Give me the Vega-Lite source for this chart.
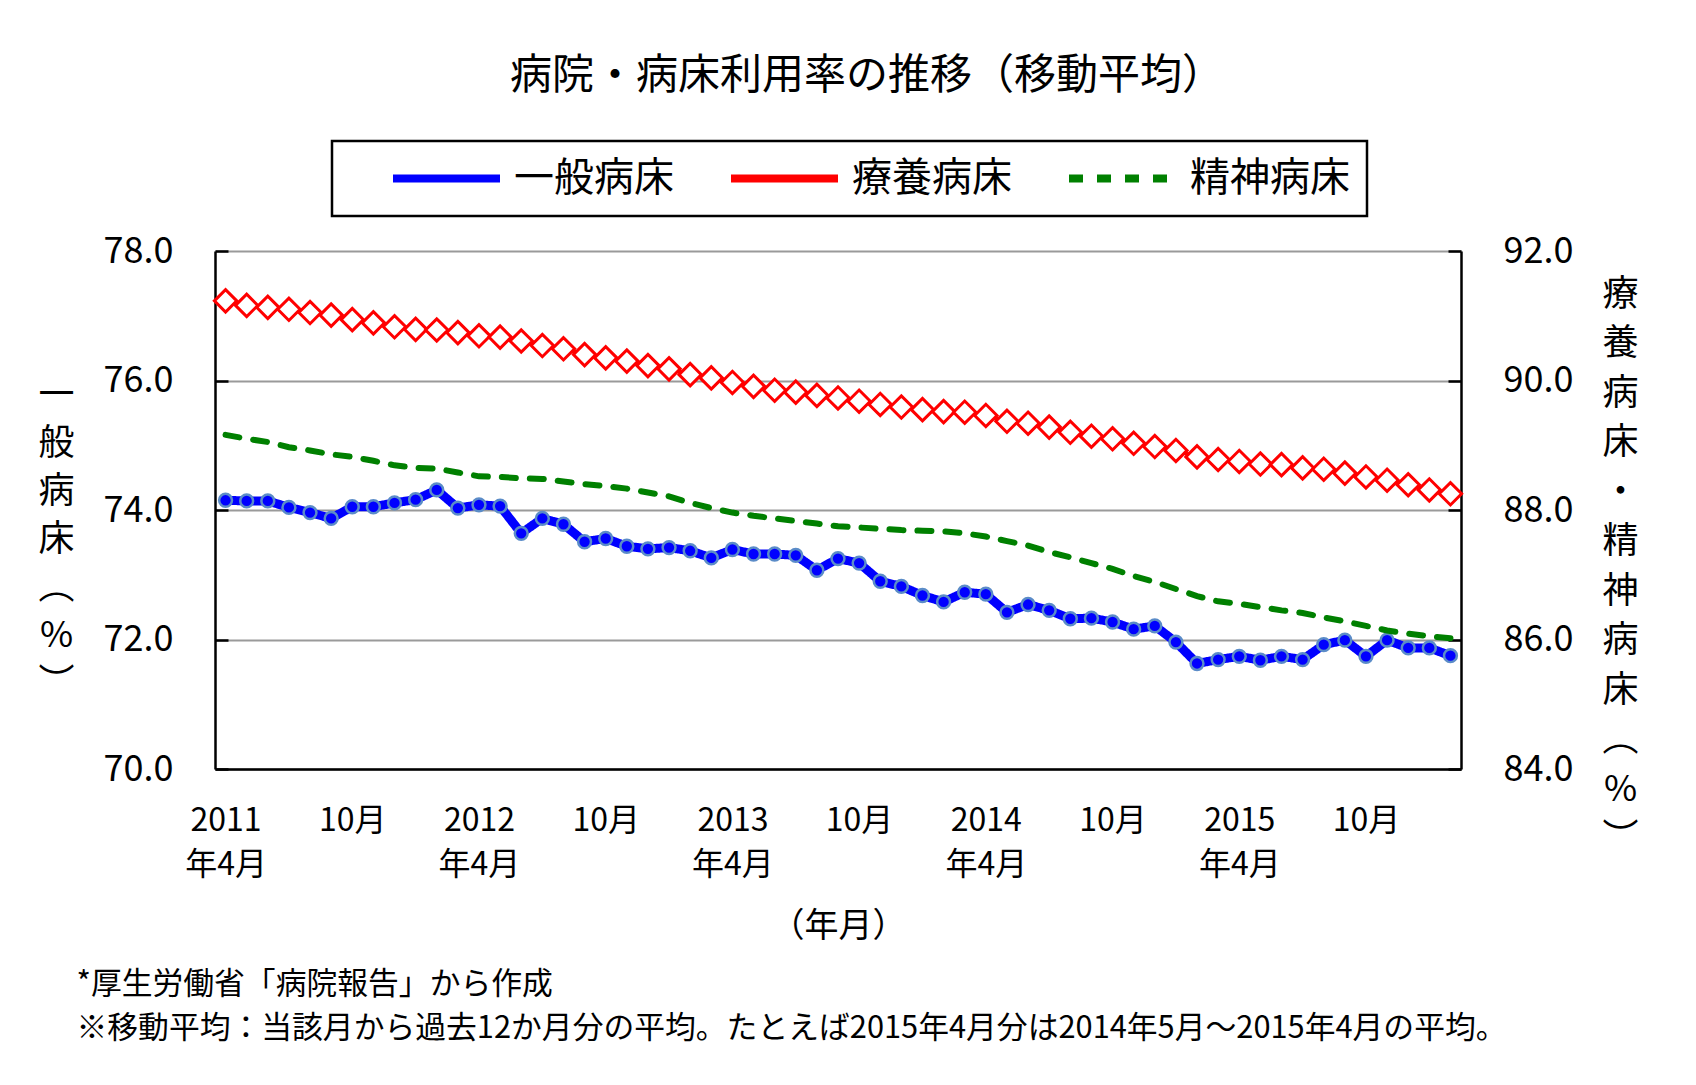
{
  "$schema": "https://vega.github.io/schema/vega-lite/v6.json",
  "width": 1246,
  "height": 518,
  "autosize": {"type": "none"},
  "padding": {"left": 215, "top": 251, "right": 235, "bottom": 316},
  "background": "white",
  "title": {
    "text": "病院・病床利用率の推移（移動平均）",
    "fontSize": 42,
    "fontWeight": "normal",
    "font": "Noto Sans CJK JP",
    "color": "black",
    "anchor": "middle",
    "frame": "group",
    "dx": 29,
    "offset": 42
  },
  "data": {
    "values": [
      {"m": "2011-04", "一般病床": 74.15, "療養病床": 91.23, "精神病床": 89.16},
      {"m": "2011-05", "一般病床": 74.14, "療養病床": 91.16, "精神病床": 89.10},
      {"m": "2011-06", "一般病床": 74.14, "療養病床": 91.13, "精神病床": 89.05},
      {"m": "2011-07", "一般病床": 74.04, "療養病床": 91.10, "精神病床": 88.97},
      {"m": "2011-08", "一般病床": 73.96, "療養病床": 91.05, "精神病床": 88.92},
      {"m": "2011-09", "一般病床": 73.87, "療養病床": 91.01, "精神病床": 88.86},
      {"m": "2011-10", "一般病床": 74.05, "療養病床": 90.94, "精神病床": 88.82},
      {"m": "2011-11", "一般病床": 74.05, "療養病床": 90.89, "精神病床": 88.76},
      {"m": "2011-12", "一般病床": 74.11, "療養病床": 90.83, "精神病床": 88.69},
      {"m": "2012-01", "一般病床": 74.16, "療養病床": 90.79, "精神病床": 88.65},
      {"m": "2012-02", "一般病床": 74.31, "療養病床": 90.78, "精神病床": 88.64},
      {"m": "2012-03", "一般病床": 74.03, "療養病床": 90.74, "精神病床": 88.58},
      {"m": "2012-04", "一般病床": 74.08, "療養病床": 90.69, "精神病床": 88.52},
      {"m": "2012-05", "一般病床": 74.06, "療養病床": 90.67, "精神病床": 88.51},
      {"m": "2012-06", "一般病床": 73.64, "療養病床": 90.61, "精神病床": 88.49},
      {"m": "2012-07", "一般病床": 73.87, "療養病床": 90.54, "精神病床": 88.48},
      {"m": "2012-08", "一般病床": 73.78, "療養病床": 90.49, "精神病床": 88.44},
      {"m": "2012-09", "一般病床": 73.51, "療養病床": 90.40, "精神病床": 88.40},
      {"m": "2012-10", "一般病床": 73.56, "療養病床": 90.35, "精神病床": 88.37},
      {"m": "2012-11", "一般病床": 73.44, "療養病床": 90.30, "精神病床": 88.33},
      {"m": "2012-12", "一般病床": 73.40, "療養病床": 90.23, "精神病床": 88.27},
      {"m": "2013-01", "一般病床": 73.42, "療養病床": 90.18, "精神病床": 88.21},
      {"m": "2013-02", "一般病床": 73.37, "療養病床": 90.09, "精神病床": 88.11},
      {"m": "2013-03", "一般病床": 73.26, "療養病床": 90.04, "精神病床": 88.03},
      {"m": "2013-04", "一般病床": 73.39, "療養病床": 89.97, "精神病床": 87.96},
      {"m": "2013-05", "一般病床": 73.32, "療養病床": 89.91, "精神病床": 87.91},
      {"m": "2013-06", "一般病床": 73.32, "療養病床": 89.85, "精神病床": 87.87},
      {"m": "2013-07", "一般病床": 73.30, "療養病床": 89.82, "精神病床": 87.83},
      {"m": "2013-08", "一般病床": 73.07, "療養病床": 89.77, "精神病床": 87.79},
      {"m": "2013-09", "一般病床": 73.25, "療養病床": 89.73, "精神病床": 87.75},
      {"m": "2013-10", "一般病床": 73.18, "療養病床": 89.68, "精神病床": 87.73},
      {"m": "2013-11", "一般病床": 72.90, "療養病床": 89.63, "精神病床": 87.71},
      {"m": "2013-12", "一般病床": 72.82, "療養病床": 89.59, "精神病床": 87.69},
      {"m": "2014-01", "一般病床": 72.68, "療養病床": 89.55, "精神病床": 87.68},
      {"m": "2014-02", "一般病床": 72.58, "療養病床": 89.52, "精神病床": 87.67},
      {"m": "2014-03", "一般病床": 72.73, "療養病床": 89.51, "精神病床": 87.64},
      {"m": "2014-04", "一般病床": 72.70, "療養病床": 89.46, "精神病床": 87.59},
      {"m": "2014-05", "一般病床": 72.42, "療養病床": 89.37, "精神病床": 87.52},
      {"m": "2014-06", "一般病床": 72.54, "療養病床": 89.34, "精神病床": 87.45},
      {"m": "2014-07", "一般病床": 72.45, "療養病床": 89.28, "精神病床": 87.35},
      {"m": "2014-08", "一般病床": 72.32, "療養病床": 89.20, "精神病床": 87.27},
      {"m": "2014-09", "一般病床": 72.33, "療養病床": 89.14, "精神病床": 87.18},
      {"m": "2014-10", "一般病床": 72.27, "療養病床": 89.10, "精神病床": 87.09},
      {"m": "2014-11", "一般病床": 72.16, "療養病床": 89.03, "精神病床": 86.98},
      {"m": "2014-12", "一般病床": 72.21, "療養病床": 88.98, "精神病床": 86.89},
      {"m": "2015-01", "一般病床": 71.96, "療養病床": 88.92, "精神病床": 86.78},
      {"m": "2015-02", "一般病床": 71.63, "療養病床": 88.82, "精神病床": 86.67},
      {"m": "2015-03", "一般病床": 71.69, "療養病床": 88.78, "精神病床": 86.59},
      {"m": "2015-04", "一般病床": 71.74, "療養病床": 88.75, "精神病床": 86.55},
      {"m": "2015-05", "一般病床": 71.68, "療養病床": 88.71, "精神病床": 86.50},
      {"m": "2015-06", "一般病床": 71.74, "療養病床": 88.70, "精神病床": 86.45},
      {"m": "2015-07", "一般病床": 71.69, "療養病床": 88.65, "精神病床": 86.41},
      {"m": "2015-08", "一般病床": 71.92, "療養病床": 88.63, "精神病床": 86.34},
      {"m": "2015-09", "一般病床": 71.99, "療養病床": 88.57, "精神病床": 86.28},
      {"m": "2015-10", "一般病床": 71.74, "療養病床": 88.51, "精神病床": 86.21},
      {"m": "2015-11", "一般病床": 71.99, "療養病床": 88.46, "精神病床": 86.14},
      {"m": "2015-12", "一般病床": 71.87, "療養病床": 88.39, "精神病床": 86.09},
      {"m": "2016-01", "一般病床": 71.87, "療養病床": 88.31, "精神病床": 86.05},
      {"m": "2016-02", "一般病床": 71.75, "療養病床": 88.25, "精神病床": 86.02}
    ]
  },
  "transform": [{"fold": ["一般病床", "療養病床", "精神病床"], "as": ["series", "value"]}],
  "layer": [
    {
      "transform": [{"filter": "datum.series === '一般病床'"}],
      "encoding": {
        "x": {
          "field": "m",
          "type": "ordinal",
          "axis": {
            "orient": "bottom",
            "values": ["2011-04", "2011-10", "2012-04", "2012-10", "2013-04", "2013-10", "2014-04", "2014-10", "2015-04", "2015-10"],
            "labelExpr": "substring(datum.value, 5, 7) == '04' ? [substring(datum.value, 0, 4), '年4月'] : '10月'",
            "labelAngle": 0,
            "labelFontSize": 32,
            "labelLineHeight": 44,
            "labelPadding": 36,
            "labelOverlap": false,
            "labelBaseline": "top",
            "ticks": false,
            "tickSize": 0,
            "grid": false,
            "domainColor": "black",
            "domainWidth": 2.5,
            "title": "（年月）",
            "titleFontSize": 34,
            "titleX": 623,
            "titleY": 157,
            "titleAlign": "center",
            "titleBaseline": "middle"
          }
        },
        "y": {
          "field": "value",
          "type": "quantitative",
          "scale": {"domain": [70, 78], "zero": false, "nice": false},
          "axis": {
            "orient": "left",
            "values": [70, 72, 74, 76, 78],
            "format": ".1f",
            "labelFontSize": 36,
            "labelPadding": 55,
            "tickSize": -13,
            "tickWidth": 2.5,
            "tickColor": "black",
            "domainColor": "black",
            "domainWidth": 2.5,
            "grid": true,
            "gridColor": "#9a9a9a",
            "gridWidth": 2,
            "title": ["一", "般", "病", "床", "︵", "%", "︶"],
            "titleAngle": 0,
            "titleFontSize": 36,
            "titleLineHeight": 48,
            "titleX": -159,
            "titleY": 144,
            "titleAlign": "center",
            "titleBaseline": "middle"
          }
        }
      },
      "layer": [
        {
          "mark": {"type": "line", "strokeWidth": 9, "strokeJoin": "round"},
          "encoding": {
            "color": {
              "field": "series",
              "type": "nominal",
              "scale": {"domain": ["一般病床", "療養病床", "精神病床"], "range": ["#0000ff", "#ff0000", "#008000"]},
              "legend": {"title": null, "orient": "none", "legendX": 117, "legendY": -110, "direction": "horizontal", "columns": 3, "encode": {"legend": {"update": {"strokeWidth": {"value": 2.5}}}}}
            },
            "strokeDash": {
              "field": "series",
              "type": "nominal",
              "scale": {"domain": ["一般病床", "療養病床", "精神病床"], "range": [[1, 0], [1, 0], [14, 14]]},
              "legend": {"title": null, "orient": "none", "legendX": 117, "legendY": -110, "direction": "horizontal", "columns": 3, "encode": {"legend": {"update": {"strokeWidth": {"value": 2.5}}}}}
            }
          }
        },
        {
          "mark": {"type": "point", "shape": "circle", "filled": true, "fill": "#0000ff", "stroke": "#5b8cc8", "strokeWidth": 2.5, "size": 165, "opacity": 1}
        }
      ]
    },
    {
      "transform": [{"filter": "datum.series !== '一般病床'"}],
      "encoding": {
        "x": {
          "field": "m",
          "type": "ordinal",
          "axis": {
            "orient": "top",
            "labels": false,
            "ticks": false,
            "domain": false,
            "grid": false,
            "title": ["*厚生労働省「病院報告」から作成", "※移動平均：当該月から過去12か月分の平均。たとえば2015年4月分は2014年5月～2015年4月の平均。"],
            "titleFontSize": 30.8,
            "titleLineHeight": 44,
            "titleLimit": 3000,
            "titleX": -139,
            "titleY": 718,
            "titleAlign": "left",
            "titleBaseline": "top"
          }
        },
        "y": {
          "field": "value",
          "type": "quantitative",
          "scale": {"domain": [84, 92], "zero": false, "nice": false},
          "axis": {
            "orient": "right",
            "values": [84, 86, 88, 90, 92],
            "format": ".1f",
            "labelFontSize": 36,
            "labelPadding": 55,
            "tickSize": -13,
            "tickWidth": 2.5,
            "tickColor": "black",
            "domainColor": "black",
            "domainWidth": 2.5,
            "grid": false,
            "title": ["療", "養", "病", "床", "・", "精", "神", "病", "床", "︵", "%", "︶"],
            "titleAngle": 0,
            "titleFontSize": 36,
            "titleLineHeight": 49.5,
            "titleX": 159,
            "titleY": 43,
            "titleAlign": "center",
            "titleBaseline": "middle"
          }
        }
      },
      "layer": [
        {
          "transform": [{"filter": "datum.series === '精神病床'"}],
          "mark": {"type": "line", "strokeWidth": 6, "strokeCap": "round"},
          "encoding": {
            "color": {
              "field": "series",
              "type": "nominal",
              "scale": {"domain": ["一般病床", "療養病床", "精神病床"], "range": ["#0000ff", "#ff0000", "#008000"]},
              "legend": {"title": null, "orient": "none", "legendX": 117, "legendY": -110, "direction": "horizontal", "columns": 3, "encode": {"legend": {"update": {"strokeWidth": {"value": 2.5}}}}}
            },
            "strokeDash": {
              "field": "series",
              "type": "nominal",
              "scale": {"domain": ["一般病床", "療養病床", "精神病床"], "range": [[1, 0], [1, 0], [14, 14]]},
              "legend": {"title": null, "orient": "none", "legendX": 117, "legendY": -110, "direction": "horizontal", "columns": 3, "encode": {"legend": {"update": {"strokeWidth": {"value": 2.5}}}}}
            }
          }
        },
        {
          "transform": [{"filter": "datum.series === '療養病床'"}],
          "mark": {"type": "line", "strokeWidth": 4, "strokeJoin": "round"},
          "encoding": {
            "color": {
              "field": "series",
              "type": "nominal",
              "scale": {"domain": ["一般病床", "療養病床", "精神病床"], "range": ["#0000ff", "#ff0000", "#008000"]},
              "legend": {"title": null, "orient": "none", "legendX": 117, "legendY": -110, "direction": "horizontal", "columns": 3, "encode": {"legend": {"update": {"strokeWidth": {"value": 2.5}}}}}
            },
            "strokeDash": {
              "field": "series",
              "type": "nominal",
              "scale": {"domain": ["一般病床", "療養病床", "精神病床"], "range": [[1, 0], [1, 0], [14, 14]]},
              "legend": {"title": null, "orient": "none", "legendX": 117, "legendY": -110, "direction": "horizontal", "columns": 3, "encode": {"legend": {"update": {"strokeWidth": {"value": 2.5}}}}}
            }
          }
        },
        {
          "transform": [{"filter": "datum.series === '療養病床'"}],
          "mark": {"type": "point", "shape": "diamond", "filled": true, "fill": "white", "stroke": "#ff0000", "strokeWidth": 3, "size": 500, "opacity": 1}
        }
      ]
    }
  ],
  "resolve": {
    "scale": {"x": "independent", "y": "independent"},
    "axis": {"x": "independent", "y": "independent"}
  },
  "config": {
    "font": "Noto Sans CJK JP",
    "view": {"stroke": null},
    "axis": {
      "labelColor": "black",
      "titleColor": "black",
      "labelFont": "Noto Sans CJK JP",
      "titleFont": "Noto Sans CJK JP",
      "titleFontWeight": "normal"
    },
    "legend": {
      "symbolType": "stroke",
      "symbolSize": 11449,
      "symbolStrokeWidth": 8,
      "symbolOffset": 40,
      "clipHeight": 41,
      "labelFontSize": 40,
      "labelOffset": 10,
      "labelColor": "black",
      "labelFont": "Noto Sans CJK JP",
      "labelLimit": 500,
      "columnPadding": 13,
      "padding": 17,
      "strokeColor": "black",
      "fillColor": "white",
      "symbolOpacity": 1
    }
  }
}
